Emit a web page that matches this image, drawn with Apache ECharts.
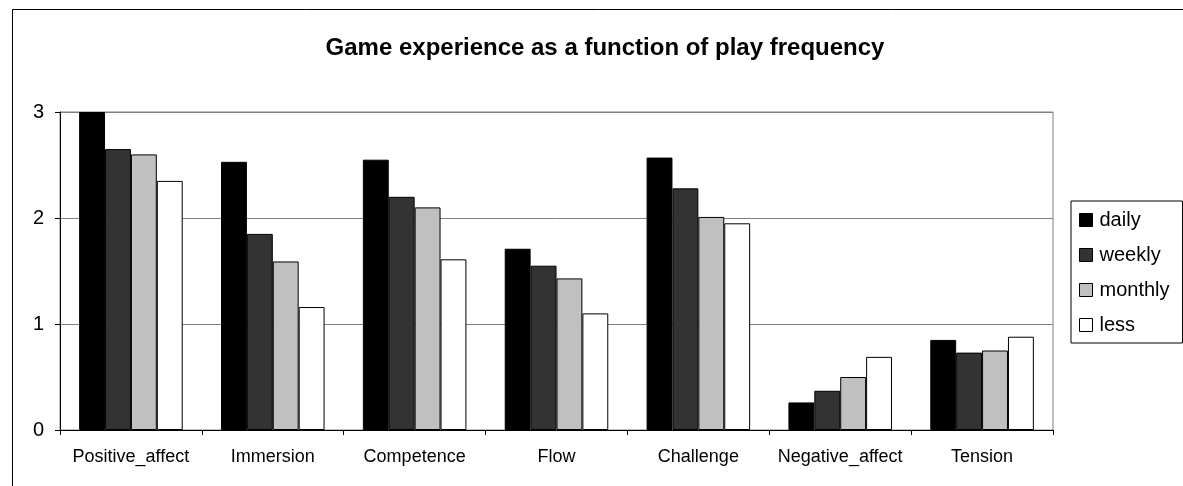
<!DOCTYPE html>
<html>
<head>
<meta charset="utf-8">
<script src="https://cdn.jsdelivr.net/npm/echarts@6/dist/echarts.min.js"></script>
<style>
  html, body { margin: 0; padding: 0; background: #fff; }
  #chart { width: 1183px; height: 486px; }
</style>
</head>
<body>
<div id="chart"></div>
<script>
/* ================================
   DATA
================================ */
const categories = ["Positive_affect", "Immersion", "Competence", "Flow", "Challenge", "Negative_affect", "Tension"];
const daily   = [3.00, 2.53, 2.55, 1.71, 2.57, 0.26, 0.85];
const weekly  = [2.65, 1.85, 2.20, 1.55, 2.28, 0.37, 0.73];
const monthly = [2.60, 1.59, 2.10, 1.43, 2.01, 0.50, 0.75];
const less    = [2.35, 1.16, 1.61, 1.10, 1.95, 0.69, 0.88];
const yTicks  = [0, 1, 2, 3];

const seriesDefs = [
  { name: "daily",   data: daily,   color: "#000000" },
  { name: "weekly",  data: weekly,  color: "#333333" },
  { name: "monthly", data: monthly, color: "#c0c0c0" },
  { name: "less",    data: less,    color: "#ffffff" }
];

const font = "Liberation Sans, Arial, sans-serif";

/* ================================
   CHART
================================ */
const chart = echarts.init(document.getElementById("chart"));

chart.setOption({
  backgroundColor: "#fff",
  animation: false,
  title: {
    text: "Game experience as a function of play frequency",
    left: 600,
    textAlign: "center",
    top: 31,
    textStyle: { fontFamily: font, fontSize: 24, fontWeight: "bold", color: "#000" }
  },
  graphic: [{
    type: "rect",
    shape: { x: 12.5, y: 9.5, width: 1400, height: 700 },
    style: { fill: "none", stroke: "#000", lineWidth: 1 },
    z: -1
  }],
  legend: {
    orient: "vertical",
    left: 1071,
    top: 201,
    padding: [9, 13, 8, 8],
    itemGap: 15,
    itemWidth: 13,
    itemHeight: 13,
    borderColor: "#000",
    borderWidth: 1,
    backgroundColor: "#fff",
    icon: "rect",
    textStyle: { fontFamily: font, fontSize: 20, color: "#000", padding: [0, 0, 0, 2] },
    data: seriesDefs.map(s => ({ name: s.name, itemStyle: { borderColor: "#000", borderWidth: 1 } }))
  },
  grid: {
    left: 60, right: 130, top: 112, bottom: 56,
    show: true, borderColor: "#808080", borderWidth: 1
  },
  xAxis: {
    type: "category",
    data: categories,
    axisLine: { lineStyle: { color: "#000", width: 1 } },
    axisTick: { show: true, length: 5, lineStyle: { color: "#000" } },
    axisLabel: { fontFamily: font, fontSize: 18, color: "#000", margin: 18, interval: 0 }
  },
  yAxis: {
    type: "value",
    min: yTicks[0],
    max: yTicks[yTicks.length - 1],
    interval: 1,
    axisLine: { show: true, lineStyle: { color: "#000", width: 1 } },
    axisTick: { show: true, length: 5, lineStyle: { color: "#000" } },
    axisLabel: { fontFamily: font, fontSize: 20, color: "#000", margin: 16 },
    splitLine: { lineStyle: { color: "#808080", width: 1 } }
  },
  series: seriesDefs.map(s => ({
    name: s.name,
    type: "bar",
    data: s.data,
    barGap: "0%",
    barCategoryGap: "27%",
    itemStyle: { color: s.color, borderColor: "#000", borderWidth: 1 }
  }))
});
</script>
</body>
</html>
